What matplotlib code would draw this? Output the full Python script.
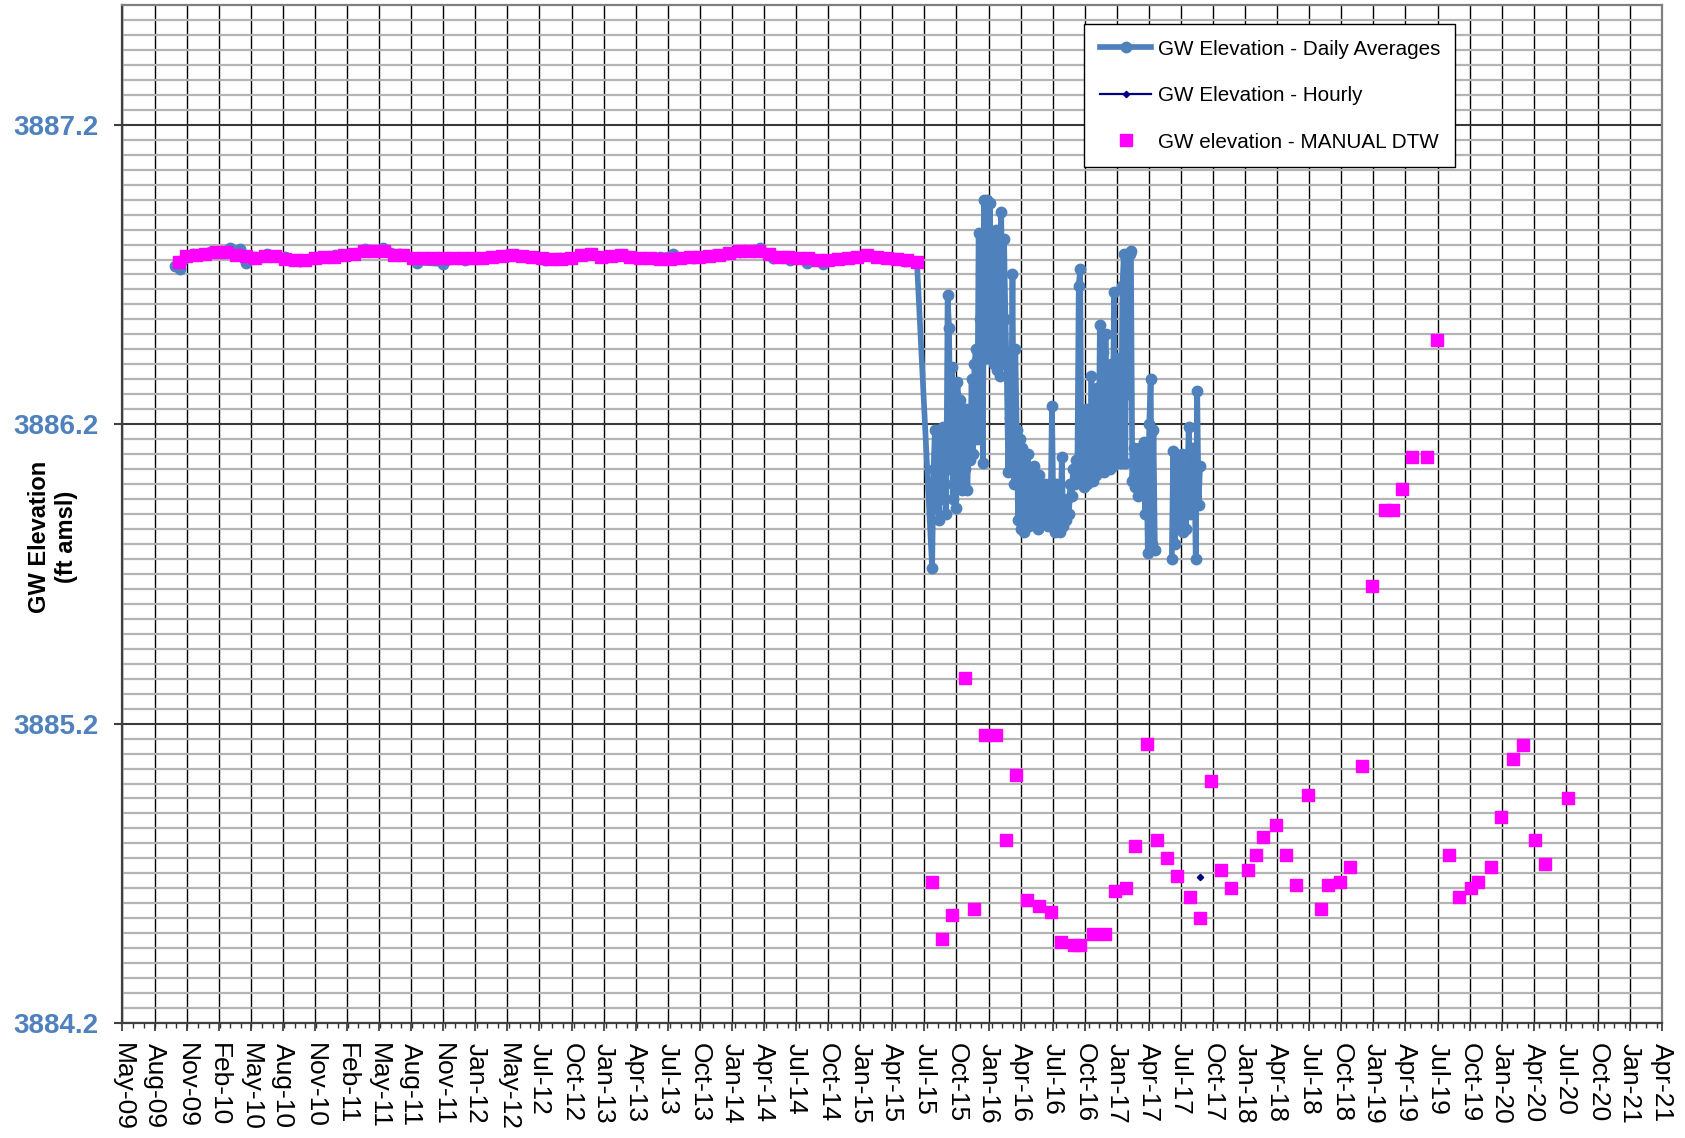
import numpy as np
import pandas as pd
import matplotlib
matplotlib.use("Agg")
import matplotlib.pyplot as plt
import matplotlib.dates as mdates
from matplotlib.ticker import FixedLocator, NullFormatter

plt.rcParams['font.family'] = ['Liberation Sans', 'DejaVu Sans']

# ---------------- data ----------------
# x-axis: major ticks every 91 days starting May-09
axis_start = "2009-05-01"
tick_step_days = 91
tick_labels = ["May-09", "Aug-09", "Nov-09", "Feb-10", "May-10", "Aug-10", "Nov-10",
               "Feb-11", "May-11", "Aug-11", "Nov-11", "Jan-12", "May-12", "Jul-12",
               "Oct-12", "Jan-13", "Apr-13", "Jul-13", "Oct-13", "Jan-14", "Apr-14",
               "Jul-14", "Oct-14", "Jan-15", "Apr-15", "Jul-15", "Oct-15", "Jan-16",
               "Apr-16", "Jul-16", "Oct-16", "Jan-17", "Apr-17", "Jul-17", "Oct-17",
               "Jan-18", "Apr-18", "Jul-18", "Oct-18", "Jan-19", "Apr-19", "Jul-19",
               "Oct-19", "Jan-20", "Apr-20", "Jul-20", "Oct-20", "Jan-21", "Apr-21"]
y_ticks = [3884.2, 3885.2, 3886.2, 3887.2]

# GW Elevation - Daily Averages (stable period)
daily_flat_dates = ["2009-09-27", "2009-10-11", "2009-11-17", "2010-01-04", "2010-03-02",
                    "2010-03-30", "2010-04-16", "2010-05-12", "2010-06-15", "2010-08-05",
                    "2010-09-16", "2010-11-12", "2010-12-25", "2011-02-05", "2011-03-20",
                    "2011-05-10", "2011-06-27", "2011-08-14", "2011-10-27", "2011-12-29",
                    "2012-02-18", "2012-05-04", "2012-06-30", "2012-08-12", "2012-09-23",
                    "2012-12-09", "2013-02-04", "2013-03-27", "2013-05-08", "2013-07-04",
                    "2013-08-10", "2013-10-06", "2013-12-01", "2014-02-16", "2014-04-14",
                    "2014-05-21", "2014-07-08", "2014-08-25", "2014-10-10", "2014-12-17",
                    "2015-02-20", "2015-04-26", "2015-05-30", "2015-07-03"]
daily_flat_vals = [3886.73, 3886.72, 3886.77, 3886.775, 3886.79,
                   3886.785, 3886.74, 3886.76, 3886.77, 3886.76,
                   3886.745, 3886.755, 3886.765, 3886.77, 3886.785,
                   3886.79, 3886.77, 3886.74, 3886.735, 3886.75,
                   3886.755, 3886.765, 3886.76, 3886.75, 3886.755,
                   3886.77, 3886.76, 3886.765, 3886.755, 3886.76,
                   3886.77, 3886.755, 3886.765, 3886.775, 3886.79,
                   3886.755, 3886.75, 3886.74, 3886.735, 3886.755,
                   3886.765, 3886.755, 3886.745, 3886.74]

# GW Elevation - Daily Averages (fluctuating period, readings every 4 days)
daily_var_start = "2015-08-15"
daily_var_step_days = 4
daily_var_vals = [
    3885.72,
    3886.05, 3886.18, 3885.92, 3886.15, 3885.88, 3886.12, 3885.95, 3886.19,
    3886.00, 3885.90,
    3886.63, 3886.52,
    3886.05, 3886.39, 3885.95, 3886.30, 3885.92, 3886.34, 3886.00, 3886.28, 3885.98, 3886.20, 3886.05, 3886.25,
    3885.98, 3886.22, 3886.08, 3886.35, 3886.10, 3886.40, 3886.45,
    3886.15, 3886.84, 3886.55, 3886.70, 3886.07, 3886.95, 3886.42, 3886.95, 3886.50, 3886.94,
    3886.45, 3886.83, 3886.40, 3886.85, 3886.38, 3886.78, 3886.36, 3886.91, 3886.40, 3886.82, 3886.55,
    3886.36, 3886.04, 3886.22, 3886.15, 3886.70, 3886.00, 3886.45,
    3886.18, 3885.88, 3886.15, 3885.85, 3886.12, 3885.84, 3886.05, 3885.90, 3886.10, 3885.86,
    3886.02, 3885.92, 3886.06, 3885.88, 3886.00, 3885.85, 3886.03, 3885.90, 3885.98, 3885.87, 3886.00,
    3885.95, 3885.86, 3886.00, 3885.90,
    3886.26, 3885.90,
    3885.84, 3886.00, 3885.85, 3885.95, 3885.84,
    3886.09, 3885.86, 3885.92, 3885.88,
    3885.95, 3885.90, 3886.00, 3885.96, 3886.05, 3886.00, 3886.08, 3886.03,
    3886.66, 3886.72, 3886.00,
    3886.20, 3885.99, 3886.25, 3886.00, 3886.22, 3886.02, 3886.36, 3886.01, 3886.28, 3886.03,
    3886.32, 3886.04, 3886.53, 3886.05, 3886.44, 3886.04, 3886.50, 3886.06, 3886.30, 3886.05,
    3886.40, 3886.06, 3886.64, 3886.07, 3886.42, 3886.08, 3886.35, 3886.07, 3886.66, 3886.77,
    3886.07, 3886.77, 3886.30, 3886.77, 3886.78, 3886.01, 3886.12, 3885.99, 3886.10, 3885.96,
    3886.12, 3885.99, 3886.10, 3886.14, 3885.90, 3886.10, 3885.77, 3886.20, 3886.35, 3885.80,
    3886.18, 3885.78,
    np.nan, np.nan, np.nan, np.nan, np.nan, np.nan, np.nan, np.nan, np.nan, np.nan, np.nan,
    3885.75, 3886.11, 3885.80, 3886.08, 3885.85, 3886.05, 3885.92, 3886.10, 3885.84, 3886.05,
    3885.85, 3886.00, 3886.19, 3885.90, 3886.12, 3885.95, 3886.06, 3885.75, 3886.31, 3885.93, 3886.06,
]

# GW Elevation - Hourly
hourly_dates = ["2017-09-12"]
hourly_vals = [3884.689]

# GW elevation - MANUAL DTW
manual_dates = [
    "2009-10-08", "2009-10-28", "2009-11-25", "2009-12-22", "2010-01-20", "2010-02-18",
    "2010-03-18", "2010-04-15", "2010-05-13", "2010-06-10", "2010-07-08", "2010-08-05",
    "2010-09-02", "2010-09-30", "2010-10-28", "2010-11-25", "2010-12-23", "2011-01-20",
    "2011-02-17", "2011-03-17", "2011-04-14", "2011-05-12", "2011-06-09", "2011-07-07",
    "2011-08-04", "2011-09-01", "2011-09-29", "2011-10-27", "2011-11-24", "2011-12-22",
    "2012-01-19", "2012-02-16", "2012-03-15", "2012-04-12", "2012-05-10", "2012-06-07",
    "2012-07-05", "2012-08-02", "2012-08-30", "2012-09-27", "2012-10-25", "2012-11-22",
    "2012-12-20", "2013-01-17", "2013-02-14", "2013-03-14", "2013-04-11", "2013-05-09",
    "2013-06-06", "2013-07-04", "2013-08-01", "2013-08-29", "2013-09-26", "2013-10-24",
    "2013-11-21", "2013-12-19", "2014-01-16", "2014-02-13", "2014-03-13", "2014-04-10",
    "2014-05-08", "2014-06-05", "2014-07-03", "2014-07-31", "2014-08-28", "2014-09-25",
    "2014-10-23", "2014-11-20", "2014-12-18", "2015-01-15", "2015-02-12", "2015-03-12",
    "2015-04-09", "2015-05-07", "2015-06-04", "2015-07-03",
    "2015-08-16", "2015-09-12", "2015-10-10", "2015-11-15", "2015-12-13",
    "2016-01-12", "2016-02-11", "2016-03-13", "2016-04-10", "2016-05-09",
    "2016-06-13", "2016-07-18", "2016-08-14", "2016-09-21", "2016-10-07",
    "2016-11-14", "2016-12-17", "2017-01-16", "2017-02-14", "2017-03-12",
    "2017-04-16", "2017-05-14", "2017-06-12", "2017-07-10", "2017-08-15",
    "2017-09-12", "2017-10-15", "2017-11-13", "2017-12-11", "2018-01-27",
    "2018-02-20", "2018-03-12", "2018-04-16", "2018-05-14", "2018-06-13",
    "2018-07-16", "2018-08-21", "2018-09-11", "2018-10-15", "2018-11-13",
    "2018-12-17", "2019-01-15", "2019-02-20", "2019-03-14", "2019-04-09",
    "2019-05-07", "2019-06-18", "2019-07-16", "2019-08-21", "2019-09-18",
    "2019-10-22", "2019-11-11", "2019-12-17", "2020-01-15", "2020-02-19",
    "2020-03-17", "2020-04-21", "2020-05-19", "2020-07-24"]
manual_vals = [
    3886.743, 3886.762, 3886.766, 3886.770, 3886.776, 3886.776,
    3886.764, 3886.762, 3886.756, 3886.762, 3886.762, 3886.752,
    3886.748, 3886.747, 3886.755, 3886.758, 3886.760, 3886.766,
    3886.770, 3886.777, 3886.779, 3886.779, 3886.766, 3886.764,
    3886.755, 3886.755, 3886.755, 3886.755, 3886.755, 3886.756,
    3886.755, 3886.756, 3886.758, 3886.763, 3886.766, 3886.762,
    3886.757, 3886.755, 3886.753, 3886.751, 3886.755, 3886.765,
    3886.769, 3886.757, 3886.763, 3886.766, 3886.760, 3886.755,
    3886.755, 3886.753, 3886.752, 3886.755, 3886.757, 3886.760,
    3886.762, 3886.765, 3886.772, 3886.777, 3886.778, 3886.777,
    3886.768, 3886.760, 3886.758, 3886.756, 3886.755, 3886.750,
    3886.747, 3886.752, 3886.755, 3886.760, 3886.766, 3886.760,
    3886.755, 3886.752, 3886.748, 3886.743,
    3884.670, 3884.480, 3884.560, 3885.351, 3884.580,
    3885.161, 3885.161, 3884.810, 3885.030, 3884.611,
    3884.592, 3884.571, 3884.470, 3884.460, 3884.460,
    3884.499, 3884.499, 3884.641, 3884.652, 3884.791,
    3885.131, 3884.810, 3884.750, 3884.691, 3884.621,
    3884.550, 3885.010, 3884.711, 3884.651, 3884.711,
    3884.761, 3884.820, 3884.860, 3884.761, 3884.661,
    3884.960, 3884.580, 3884.661, 3884.670, 3884.720,
    3885.059, 3885.661, 3885.912, 3885.912, 3885.983,
    3886.091, 3886.091, 3886.482, 3884.761, 3884.620,
    3884.652, 3884.672, 3884.720, 3884.889, 3885.081,
    3885.130, 3884.810, 3884.731, 3884.950]

# ---------------- build ----------------
start = pd.Timestamp(axis_start)
tick_pos = [start + pd.Timedelta(days=tick_step_days * k) for k in range(len(tick_labels))]

var_dates = pd.date_range(daily_var_start, periods=len(daily_var_vals),
                          freq=f"{daily_var_step_days}D")
daily_dates = list(pd.to_datetime(daily_flat_dates)) + list(var_dates)
daily_vals = list(daily_flat_vals) + list(daily_var_vals)

BLUE = "#4F81BD"
PINK = "#FF00FF"
NAVY = "#000080"

fig, ax = plt.subplots(figsize=(16.85, 11.38), dpi=100)
fig.subplots_adjust(left=0.0727, right=0.9864, top=0.9956, bottom=0.1010)

ax.plot(daily_dates, daily_vals, color=BLUE, lw=4.1, marker='o', ms=7.5,
        mfc=BLUE, mec=BLUE, label="GW Elevation - Daily Averages", zorder=3)
ax.plot(pd.to_datetime(hourly_dates), hourly_vals, color=NAVY, lw=1.6, marker='D',
        ms=3.2, label="GW Elevation - Hourly", zorder=5)
ax.plot(pd.to_datetime(manual_dates), manual_vals, ls='none', marker='s', ms=8.5,
        mfc=PINK, mec=PINK, label="GW elevation - MANUAL DTW", zorder=4)

# axes limits
ax.set_xlim(tick_pos[0], tick_pos[-1])
ax.set_ylim(3884.2, 3887.6)

# x ticks
ax.xaxis.set_major_locator(FixedLocator(mdates.date2num(tick_pos)))
ax.set_xticklabels(tick_labels, rotation=270, fontsize=19, ha='center', va='top')
ax.xaxis.set_minor_locator(mdates.MonthLocator())
ax.xaxis.set_minor_formatter(NullFormatter())
ax.tick_params(axis='x', which='major', length=6, width=1.2, color='#333333', pad=8)
ax.tick_params(axis='x', which='minor', length=3.5, width=1.0, color='#333333')

# y ticks
ax.set_yticks(y_ticks)
ax.set_yticklabels([f"{v:.1f}" for v in y_ticks], fontsize=20, fontweight='bold', color=BLUE)
ax.set_yticks(np.arange(3884.25, 3887.6, 0.05), minor=True)
ax.tick_params(axis='y', which='major', length=6, width=1.5, color='#404040', pad=11)
ax.tick_params(axis='y', which='minor', length=0)

# grid
ax.set_axisbelow(True)
ax.grid(which='minor', axis='y', color='#B4B4B4', lw=1.6)
ax.grid(which='major', axis='y', color='#3A3A3A', lw=1.5)
ax.grid(which='major', axis='x', color='#000000', lw=1.0)

for side in ['left', 'bottom']:
    ax.spines[side].set_color('#404040')
    ax.spines[side].set_linewidth(1.6)
for side in ['top', 'right']:
    ax.spines[side].set_color('#808080')
    ax.spines[side].set_linewidth(1.6)

fig.text(53 / 1685, 1 - 537 / 1138, "GW Elevation\n(ft amsl)", rotation=90,
         ha='center', va='center', multialignment='center', fontsize=17,
         fontweight='bold', color='black')

leg = ax.legend(loc='upper left', bbox_to_anchor=(0.6246, 0.9813), borderaxespad=0,
                fontsize=14.9, handlelength=2.5, labelspacing=1.33, borderpad=0.75,
                handletextpad=0.3, fancybox=False, framealpha=1, edgecolor='black')
leg.get_frame().set_linewidth(1.0)

fig.savefig("out.png", dpi=100)
